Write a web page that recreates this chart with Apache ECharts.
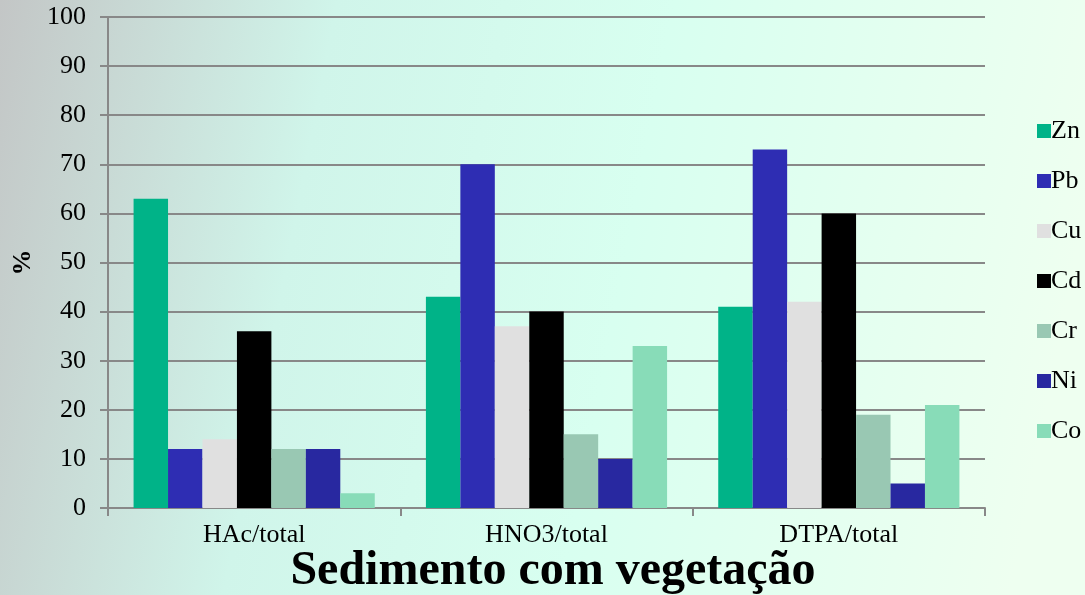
<!DOCTYPE html>
<html>
<head>
<meta charset="utf-8">
<script src="https://cdn.jsdelivr.net/npm/echarts@6/dist/echarts.min.js"></script>
<style>
  html, body { margin: 0; padding: 0; }
  #chart { width: 1085px; height: 595px; }
</style>
</head>
<body>
<div id="chart"></div>
<script>
  // categories and element values (%)
  var categories = ['HAc/total', 'HNO3/total', 'DTPA/total'];
  var elements = ['Zn', 'Pb', 'Cu', 'Cd', 'Cr', 'Ni', 'Co'];
  var zn = [63, 43, 41];
  var pb = [12, 70, 73];
  var cu = [14, 37, 42];
  var cd = [36, 40, 60];
  var cr = [12, 15, 19];
  var ni = [12, 10, 5];
  var co = [3, 33, 21];
  var values = [zn, pb, cu, cd, cr, ni, co];
  var colors = ['#00b388', '#2e2db3', '#e0e0e0', '#000000', '#99c8b3', '#2828a0', '#88dcb8'];

  var chart = echarts.init(document.getElementById('chart'));
  var font = '"Liberation Serif", "Times New Roman", serif';

  var series = elements.map(function (name, i) {
    return {
      name: name,
      type: 'bar',
      data: values[i],
      barGap: '0%',
      barCategoryGap: '17.5%',
      itemStyle: { color: colors[i] }
    };
  });

  var option = {
    backgroundColor: new echarts.graphic.LinearGradient(0, 0, 1, 0.35, [
      { offset: 0, color: '#c3c6c6' },
      { offset: 0.3, color: '#d0f5ea' },
      { offset: 0.6, color: '#d8fff0' },
      { offset: 1, color: '#eefff0' }
    ]),
    textStyle: { fontFamily: font },
    title: {
      text: 'Sedimento com vegetação',
      left: 548,
      top: 543,
      textAlign: 'center',
      textStyle: { fontFamily: font, fontSize: 48, fontWeight: 'bold', color: '#000' }
    },
    legend: {
      orient: 'vertical',
      left: 1032,
      top: 113,
      itemGap: 24,
      itemWidth: 14,
      itemHeight: 14,
      icon: 'rect',
      data: elements,
      textStyle: { fontFamily: font, fontSize: 26, color: '#000', padding: [0, 0, 0, -5] }
    },
    grid: { left: 108, right: 100, top: 17, bottom: 87, containLabel: false, outerBoundsMode: 'none' },
    xAxis: {
      type: 'category',
      data: categories,
      axisLine: { lineStyle: { color: '#888', width: 2 } },
      axisTick: { show: true, length: 8, lineStyle: { color: '#888', width: 2 } },
      axisLabel: { fontFamily: font, fontSize: 26, color: '#000', margin: 14 }
    },
    yAxis: {
      type: 'value',
      min: 0,
      max: 100,
      interval: 10,
      name: '%',
      nameLocation: 'middle',
      nameGap: 72,
      nameRotate: 90,
      nameTextStyle: { fontFamily: font, fontSize: 26, fontWeight: 'bold', color: '#000' },
      axisLine: { show: true, lineStyle: { color: '#888', width: 2 } },
      axisTick: { show: true, length: 8, lineStyle: { color: '#888', width: 2 } },
      axisLabel: { fontFamily: font, fontSize: 26, color: '#000', margin: 22 },
      splitLine: { lineStyle: { color: '#888', width: 2 } }
    },
    series: series
  };

  chart.setOption(option);
</script>
</body>
</html>
